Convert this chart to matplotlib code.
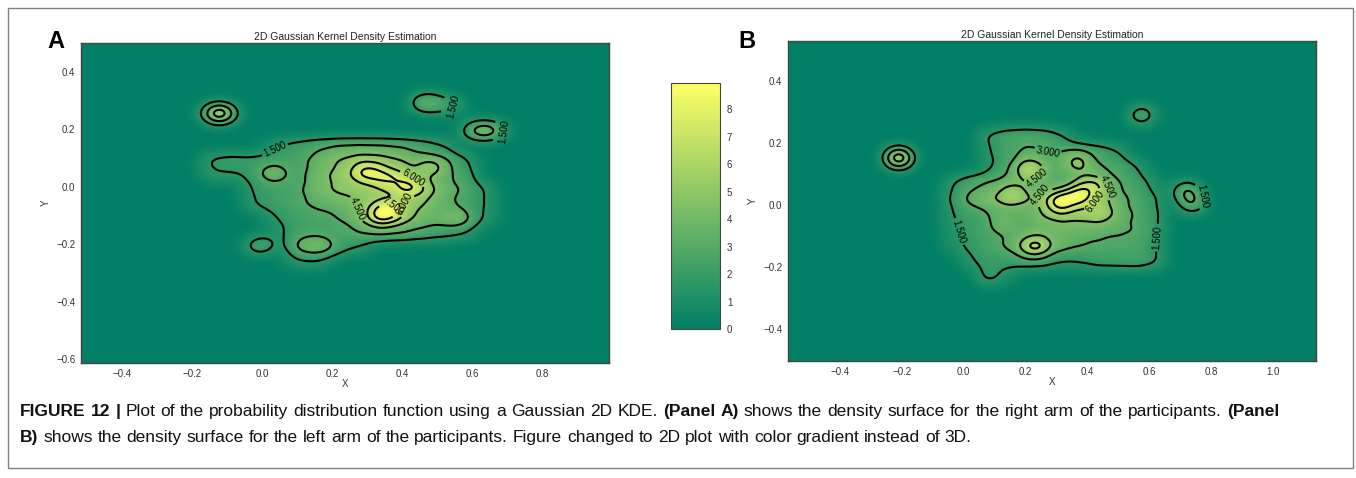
import numpy as np
import matplotlib
matplotlib.use('Agg')
import matplotlib.pyplot as plt
from matplotlib.patches import Rectangle
from matplotlib.colors import Normalize
from matplotlib.cm import ScalarMappable

# Panel A (right arm): sample counts binned on a coarse grid
a_cols = [-0.14, -0.08, -0.02, 0.04, 0.10, 0.16, 0.22, 0.28, 0.34, 0.40, 0.46, 0.52, 0.58, 0.64]
a_rows = [0.14, 0.09, 0.04, -0.01, -0.06, -0.11, -0.16, -0.21, -0.26]
a_grid = [
    [0, 0, 0, 1.5, 2.1, 2.8, 3.3, 3.4, 3.3, 3.0, 2.3, 1.5, 0, 0],
    [2.0, 2.2, 1.9, 2.0, 2.3, 3.4, 4.4, 4.9, 4.8, 4.4, 3.0, 2.8, 1.8, 0],
    [1.4, 1.2, 1.7, 2.0, 2.1, 3.8, 4.8, 5.0, 5.0, 5.0, 3.2, 3.0, 2.2, 0],
    [0, 0, 1.7, 2.1, 2.5, 3.8, 4.7, 4.9, 5.0, 5.0, 4.8, 3.7, 2.7, 1.4],
    [0, 0, 1.6, 2.1, 2.6, 3.2, 3.4, 4.4, 5.0, 5.0, 4.2, 3.2, 2.2, 1.4],
    [0, 0, 0, 1.4, 2.1, 2.4, 2.8, 3.6, 4.7, 4.5, 3.8, 3.1, 2.2, 1.2],
    [0, 0, 0, 0.9, 2.1, 2.3, 2.3, 2.9, 3.3, 3.0, 2.4, 1.9, 1.4, 0],
    [0, 0, 0, 0, 2.0, 2.1, 1.8, 1.4, 0, 0, 0, 0, 0, 0],
    [0, 0, 0, 0, 1.3, 1.3, 0, 0, 0, 0, 0, 0, 0, 0],
]
# single clusters of samples (x, y, count)
a_px = [-0.122, 0.470, 0.535, 0.612, 0.656, -0.006, 0.30, 0.36, 0.423,
        0.335, 0.365, 0.03, 0.12, 0.175, 0.485, 0.56]
a_py = [0.256, 0.292, 0.285, 0.196, 0.196, -0.205, 0.052, 0.03, 0.0,
        -0.10, -0.083, 0.047, -0.205, -0.21, 0.07, -0.11]
a_pw = [9.2, 5.0, 2.6, 4.1, 4.1, 3.7, 4.6, 3.5, 4.6,
        4.2, 4.2, 2.8, 2.2, 2.2, 3.2, 2.4]
a_total = 320

# Panel B (left arm)
b_cols = [-0.04, 0.02, 0.08, 0.14, 0.20, 0.26, 0.32, 0.38, 0.44, 0.50, 0.56, 0.62]
b_rows = [0.22, 0.17, 0.12, 0.07, 0.02, -0.03, -0.08, -0.13, -0.18, -0.23]
b_grid = [
    [0, 0, 1.8, 2.6, 2.9, 2.6, 1.6, 0, 0, 0, 0, 0],
    [0, 0, 1.4, 2.2, 3.2, 3.0, 2.8, 3.0, 2.4, 1.6, 0, 0],
    [0, 0, 1.0, 2.6, 3.8, 3.4, 2.8, 3.4, 3.0, 2.6, 1.6, 0],
    [1.4, 2.6, 3.2, 3.4, 3.3, 3.2, 2.6, 4.0, 3.6, 3.0, 2.2, 1.0],
    [1.6, 3.6, 4.4, 4.6, 4.0, 4.4, 5.0, 5.0, 4.6, 3.4, 2.6, 1.6],
    [1.4, 2.2, 2.6, 3.0, 3.2, 4.4, 5.0, 5.0, 4.6, 3.6, 2.8, 1.8],
    [1.2, 2.0, 2.4, 2.8, 3.2, 3.6, 3.8, 3.6, 3.4, 3.2, 3.0, 1.8],
    [1.0, 1.8, 2.4, 3.2, 4.2, 4.2, 3.6, 3.0, 2.8, 2.6, 2.6, 1.6],
    [0, 1.4, 2.0, 2.0, 2.2, 2.0, 1.4, 1.6, 2.2, 2.2, 2.4, 1.8],
    [0, 0, 2.4, 0.8, 0, 0, 0, 0, 0, 0, 0, 0],
]
b_px = [-0.21, 0.575, 0.722, 0.74, 0.214, 0.365, 0.16, 0.31, 0.37, 0.42,
        0.44, 0.23, 0.123]
b_py = [0.152, 0.29, 0.045, 0.005, 0.113, 0.14, 0.035, 0.01, 0.032, 0.06,
        -0.022, -0.135, -0.058]
b_pw = [9.2, 3.7, 4.5, 4.0, 4.3, 3.1, 2.8, 6.0, 5.5, 4.0,
        2.2, 4.5, 1.5]
b_total = 333

line_levels = [1.5, 3.0, 4.5, 6.0, 7.5]
cbar_ticks = [0, 1, 2, 3, 4, 5, 6, 7, 8]
zmax = 8.95

a_xticks = [-0.4, -0.2, 0.0, 0.2, 0.4, 0.6, 0.8]
a_yticks = [-0.6, -0.4, -0.2, 0.0, 0.2, 0.4]
b_xticks = [-0.4, -0.2, 0.0, 0.2, 0.4, 0.6, 0.8, 1.0]
b_yticks = [-0.4, -0.2, 0.0, 0.2, 0.4]

title = '2D Gaussian Kernel Density Estimation'
caption1 = [('FIGURE 12 |', True),
            ('Plot of the probability distribution function using a Gaussian 2D KDE.', False),
            ('(Panel A)', True),
            ('shows the density surface for the right arm of the participants.', False),
            ('(Panel', True)]
caption2 = [('B)', True),
            ('shows the density surface for the left arm of the participants. '
             'Figure changed to 2D plot with color gradient instead of 3D.', False)]


def samples(cols, rows, grid, px, py, pw):
    gx, gy = np.meshgrid(cols, rows)
    w = np.asarray(grid, dtype=float)
    keep = w > 0
    xs = np.concatenate([gx[keep], px])
    ys = np.concatenate([gy[keep], py])
    ws = np.concatenate([w[keep], pw])
    return xs, ys, ws


def kde(xs, ys, ws, total, hx, hy, gx, gy):
    xs = np.asarray(xs)[:, None, None]
    ys = np.asarray(ys)[:, None, None]
    ws = np.asarray(ws)[:, None, None]
    k = np.exp(-0.5 * (((gx - xs) / hx) ** 2 + ((gy - ys) / hy) ** 2))
    return (ws * k).sum(axis=0) / (total * 2 * np.pi * hx * hy)


plt.rcParams['font.family'] = ['Liberation Sans', 'DejaVu Sans']
fig = plt.figure(figsize=(13.56, 4.78), dpi=100)

cmap = plt.get_cmap('summer')
fill_levels = np.linspace(0, zmax, 70)


def panel(rect, pts, total, hx, hy, xlim, ylim, xticks, yticks, label_pos):
    ax = fig.add_axes(rect)
    gx, gy = np.meshgrid(np.linspace(xlim[0], xlim[1], 400),
                         np.linspace(ylim[0], ylim[1], 300))
    z = np.clip(kde(*pts, total, hx, hy, gx, gy), 0, zmax - 1e-3)
    ax.contourf(gx, gy, z, levels=fill_levels, cmap=cmap)
    cs = ax.contour(gx, gy, z, levels=line_levels, colors='black', linewidths=1.5)
    ax.clabel(cs, fmt='%1.3f', fontsize=7, inline=True, inline_spacing=2,
              manual=label_pos)
    ax.set_xlim(xlim)
    ax.set_ylim(ylim)
    ax.set_xticks(xticks)
    ax.set_yticks(yticks)
    ax.tick_params(length=0, labelsize=7, colors='#333333', pad=4)
    for s in ax.spines.values():
        s.set_color('#444444')
        s.set_linewidth(1.0)
    ax.set_title(title, fontsize=7.5, color='#222222', pad=2)
    ax.set_xlabel('X', fontsize=7, color='#333333', labelpad=0)
    ax.set_ylabel('Y', fontsize=7, color='#333333', labelpad=4)
    return ax


ax_a = panel([81 / 1356, 115 / 478, 528 / 1356, 320 / 478],
             samples(a_cols, a_rows, a_grid, a_px, a_py, a_pw), a_total,
             0.034, 0.027, (-0.517, 0.991), (-0.614, 0.501),
             a_xticks, a_yticks,
             [(0.03, 0.143), (0.565, 0.27), (0.70, 0.19), (0.243, -0.087),
              (0.43, 0.03), (0.37, -0.075), (0.41, -0.06)])

ax_b = panel([788 / 1356, 117 / 478, 528 / 1356, 320 / 478],
             samples(b_cols, b_rows, b_grid, b_px, b_py, b_pw), b_total,
             0.034, 0.026, (-0.568, 1.139), (-0.503, 0.529),
             b_xticks, b_yticks,
             [(-0.03, -0.09), (0.78, 0.03), (0.28, 0.187), (0.59, -0.10),
              (0.23, 0.10), (0.246, 0.032), (0.436, 0.006), (0.456, 0.058)])

cax = fig.add_axes([671 / 1356, 149 / 478, 49 / 1356, 246 / 478])
cb = fig.colorbar(ScalarMappable(norm=Normalize(0, zmax), cmap=cmap), cax=cax)
cb.set_ticks(cbar_ticks)
cb.ax.tick_params(length=0, labelsize=7, colors='#333333', pad=5)
cb.outline.set_edgecolor('#444444')

fig.text(47 / 1356, 1 - 48 / 478, 'A', fontsize=17, fontweight='bold', va='baseline')
fig.text(738 / 1356, 1 - 48 / 478, 'B', fontsize=17, fontweight='bold', va='baseline')

fig.patches.append(Rectangle((8 / 1356, 10 / 478), 1345 / 1356, 460 / 478,
                             transform=fig.transFigure, fill=False,
                             edgecolor='#808080', linewidth=1.0))

# caption: bold and regular words, first line justified
renderer = fig.canvas.get_renderer()
cap_size = 12.5
fw = fig.bbox.width


def caption_line(x0, y, parts, width=None):
    words = [(w, b) for txt, b in parts for w in txt.split()]
    texts = [fig.text(0, y, w, fontsize=cap_size, color='#111111',
                      fontweight='bold' if b else 'normal', va='baseline')
             for w, b in words]
    widths = [t.get_window_extent(renderer).width for t in texts]
    probe = fig.text(0, 0, 'a a', fontsize=cap_size)
    probe2 = fig.text(0, 0, 'aa', fontsize=cap_size)
    gap = probe.get_window_extent(renderer).width - probe2.get_window_extent(renderer).width
    probe.remove()
    probe2.remove()
    if width is not None:
        gap = max(gap * 0.6, (width - sum(widths)) / (len(words) - 1))
    x = x0
    for t, w in zip(texts, widths):
        t.set_x(x / fw)
        x += w + gap


caption_line(20, 1 - 416 / 478, caption1, width=1259)
caption_line(20, 1 - 442 / 478, caption2)

fig.savefig('out.png', dpi=100)
